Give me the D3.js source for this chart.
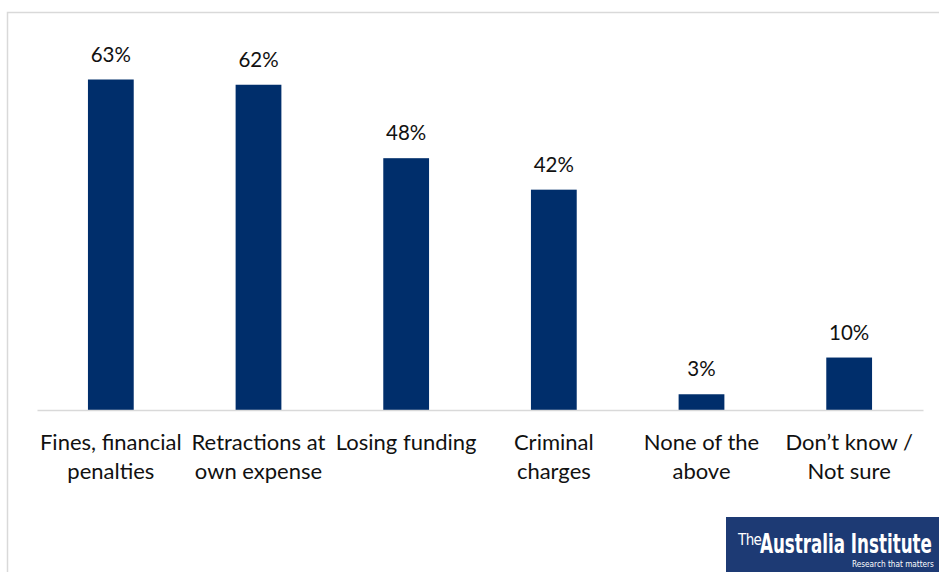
<!DOCTYPE html>
<html>
<head>
<meta charset="utf-8">
<script src="https://cdn.jsdelivr.net/npm/d3@7"></script>
<style>
  html, body { margin: 0; padding: 0; background: #fff; }
  svg { display: block; }
</style>
</head>
<body>
<svg id="chart" width="939" height="572"></svg>
<script>
// Survey responses: penalties considered appropriate
const categories = [
  ["Fines, financial", "penalties"],
  ["Retractions at", "own expense"],
  ["Losing funding"],
  ["Criminal", "charges"],
  ["None of the", "above"],
  ["Don\u2019t know /", "Not sure"]
];
const values = [63, 62, 48, 42, 3, 10];

const W = 939, H = 572;
const svg = d3.select("#chart");
const font = "Lato, 'Open Sans', sans-serif";

// Chart area frame (top and left edges only)
svg.append("path")
  .attr("d", `M7.5,${H} L7.5,12.5 L${W},12.5`)
  .attr("fill", "none")
  .attr("stroke", "#d9d9d9")
  .attr("stroke-width", 1.5);

const plot = { left: 37, right: 923, base: 410 };
const keys = categories.map((c, i) => i);

const x = d3.scaleBand()
  .domain(keys)
  .range([plot.left, plot.right])
  .paddingInner(0.69)
  .paddingOuter(0.345);

const y = d3.scaleLinear()
  .domain([0, 63])
  .range([plot.base, plot.base - 330.5]);

// Bars
svg.append("g").selectAll("rect")
  .data(values)
  .join("rect")
  .attr("x", (d, i) => x(i))
  .attr("y", d => y(d))
  .attr("width", x.bandwidth())
  .attr("height", d => y(0) - y(d))
  .attr("fill", "#002e6b");

// Value labels
svg.append("g").selectAll("text")
  .data(values)
  .join("text")
  .attr("x", (d, i) => x(i) + x.bandwidth() / 2)
  .attr("y", d => y(d) - 18)
  .attr("text-anchor", "middle")
  .attr("font-family", font)
  .attr("font-size", 20.5)
  .attr("fill", "#111")
  .text(d => d + "%");

// Category axis
const axis = d3.axisBottom(x).tickSize(0).tickFormat("");
const gx = svg.append("g")
  .attr("transform", `translate(0,${plot.base})`)
  .call(axis);
gx.select(".domain").attr("stroke", "#d9d9d9").attr("stroke-width", 1.5);

gx.selectAll(".tick").each(function (i) {
  const t = d3.select(this).select("text")
    .attr("y", 0)
    .attr("dy", null)
    .attr("font-family", font)
    .attr("font-size", 22)
    .attr("fill", "#111")
    .attr("text-anchor", "middle");
  t.selectAll("tspan")
    .data(categories[i])
    .join("tspan")
    .attr("x", 0)
    .attr("y", (d, j) => 39.5 + j * 29)
    .text(d => d);
});

// Publisher mark, bottom right
const logoFont = "'DejaVu Sans Condensed', 'DejaVu Sans', sans-serif";
const logo = svg.append("g");
logo.append("rect")
  .attr("x", 726).attr("y", 517)
  .attr("width", W - 726).attr("height", H - 517)
  .attr("fill", "#1d3a74");

// Size a text so its natural width fills the given span
function fitText(sel, width, startSize) {
  sel.attr("font-size", startSize);
  const w = sel.node().getComputedTextLength();
  sel.attr("font-size", startSize * width / w);
  return sel;
}

logo.append("text")
  .attr("x", 738).attr("y", 545)
  .attr("font-family", logoFont)
  .attr("font-size", 15)
  .attr("letter-spacing", -0.6)
  .attr("fill", "#fff")
  .text("The");
// Wordmark: condensed face stretched vertically about its baseline
const word = logo.append("g")
  .attr("transform", "translate(760,553) scale(1,1.4)");
fitText(word.append("text")
  .attr("x", 0).attr("y", 0)
  .attr("font-family", logoFont)
  .attr("font-weight", 600)
  .attr("fill", "#fff")
  .text("Australia Institute"), 172, 20);
fitText(logo.append("text")
  .attr("x", 852).attr("y", 567)
  .attr("font-family", logoFont)
  .attr("fill", "#fff")
  .text("Research that matters"), 82, 11);
</script>
</body>
</html>
